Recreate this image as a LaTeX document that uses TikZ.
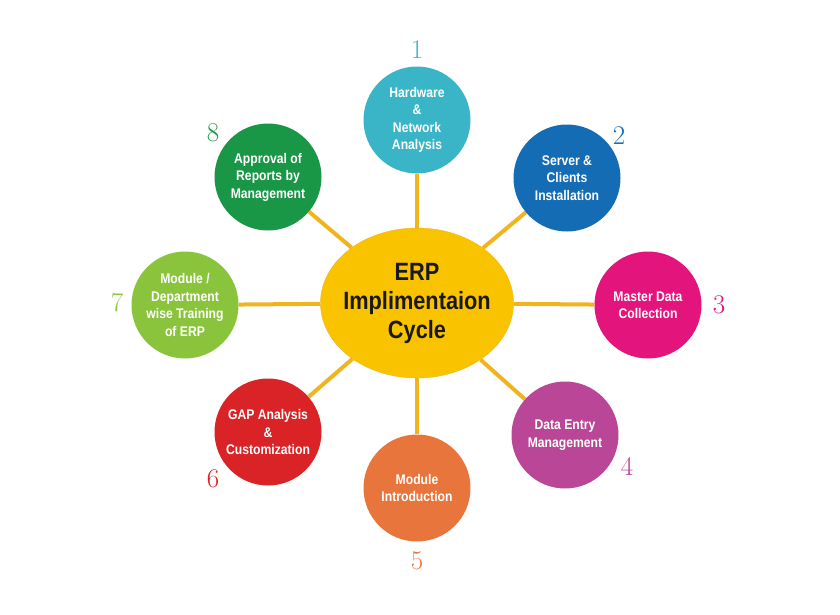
\documentclass[tikz,border=0pt]{standalone}
\usepackage{fontspec}
\usetikzlibrary{shapes.geometric,backgrounds}
\newfontfamily\condfont[FakeStretch=0.87]{Liberation Sans}
\definecolor{erpyellow}{RGB}{250,195,0}
\definecolor{spokeyellow}{RGB}{240,180,30}
\definecolor{hwcol}{RGB}{58,181,200}
\definecolor{srvcol}{RGB}{20,108,180}
\definecolor{mdcol}{RGB}{228,20,125}
\definecolor{decol}{RGB}{185,70,150}
\definecolor{micol}{RGB}{232,118,60}
\definecolor{gapcol}{RGB}{218,35,38}
\definecolor{trcol}{RGB}{138,196,60}
\definecolor{apcol}{RGB}{25,150,70}

\begin{document}
\begin{tikzpicture}
      [   x=1pt,y=-1pt,
          cnode/.style={circle,fill=#1,minimum size=107pt,inner sep=0pt,align=center,
                        text=white,font=\condfont\bfseries\fontsize{14}{17.5}\selectfont},
          numnode/.style={text=#1,inner sep=0pt,font=\fontsize{27}{27}\selectfont},
          spoke/.style={draw=spokeyellow,line width=4pt},
      ]
          \useasboundingbox (0,0) rectangle (840,614);
          \node[ellipse,fill=erpyellow,draw=spokeyellow,minimum width=193pt,minimum height=150pt,
                inner xsep=-20pt,inner ysep=0pt,
                align=center,text=black!90,font=\condfont\bfseries\fontsize{25}{29}\selectfont]
                (erp) at (417,303) {ERP\\Implimentaion\\Cycle};
          \foreach \i/\x/\y/\c/\t/\nx/\ny in
              {1/417/120/hwcol/{Hardware\\\&\\Network\\Analysis}/417/50,
               2/567/178/srvcol/{Server \&\\Clients\\Installation}/619/136,
               3/648/305/mdcol/{Master Data\\Collection}/719/305,
               4/565/435/decol/{Data Entry\\Management}/627/466,
               5/417/488/micol/{Module\\Introduction}/417/561,
               6/268/432/gapcol/{GAP Analysis\\\&\\Customization}/213/479,
               7/185/305/trcol/{Module /\\Department\\wise Training\\of ERP}/117/303,
               8/268/177/apcol/{Approval of\\Reports by\\Management}/213/133}
          {   \node[cnode=\c] (s-\i) at (\x,\y) {\t};
              \node[numnode=\c] (n-\i) at (\nx,\ny) {\i};
              \begin{scope}[on background layer]
                  \draw[spoke] (erp) -- (s-\i);
              \end{scope}
          }
    \end{tikzpicture}
\end{document}
